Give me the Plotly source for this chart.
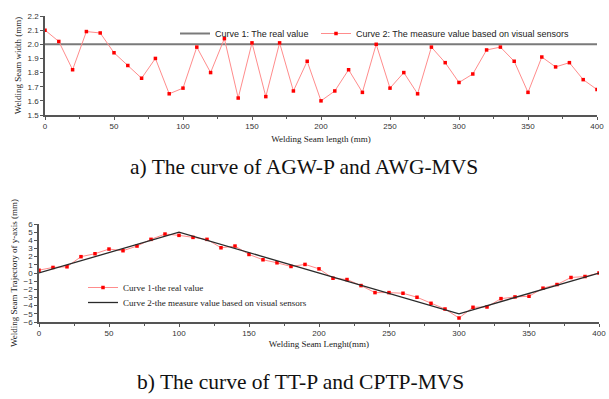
import plotly.graph_objects as go

W, H = 609, 399

# ---------------- data ----------------
seam_len = [0, 10, 20, 30, 40, 50, 60, 70, 80, 90, 100, 110, 120, 130, 140, 150, 160, 170, 180, 190,
            200, 210, 220, 230, 240, 250, 260, 270, 280, 290, 300, 310, 320, 330, 340, 350, 360, 370,
            380, 390, 400]
width_measured = [2.10, 2.02, 1.82, 2.09, 2.08, 1.94, 1.85, 1.76, 1.90, 1.65, 1.69, 1.98, 1.80, 2.04,
                  1.62, 2.01, 1.63, 2.01, 1.67, 1.88, 1.60, 1.67, 1.82, 1.66, 2.00, 1.69, 1.80, 1.65,
                  1.98, 1.87, 1.73, 1.79, 1.96, 1.98, 1.88, 1.66, 1.91, 1.84, 1.87, 1.75, 1.68]
width_real_x = [0, 400]
width_real_y = [2.0, 2.0]

traj_points = [0.35, 0.68, 0.76, 2.0, 2.36, 2.93, 2.73, 3.30, 4.12, 4.77, 4.61, 4.36, 4.12, 3.09,
               3.30, 2.27, 1.62, 1.25, 0.80, 1.05, 0.51, -0.64, -0.80, -1.54, -2.40, -2.40, -2.48,
               -2.97, -3.71, -4.41, -5.51, -4.20, -4.16, -3.14, -2.93, -2.85, -1.86, -1.41, -0.55,
               -0.43, 0.0]
traj_line_x = [0, 100, 300, 400]
traj_line_y = [0, 5, -5, 0]

top_yticks = [1.5, 1.6, 1.7, 1.8, 1.9, 2.0, 2.1, 2.2]
bot_yticks = list(range(-6, 7))
xticks = [0, 50, 100, 150, 200, 250, 300, 350, 400]

SERIF = "Liberation Serif, Times New Roman, serif"
SANS = "Liberation Sans, Arial, sans-serif"


def px_x(p):
    return p / W


def px_y(p):
    return 1 - p / H


fig = go.Figure()

# top chart
fig.add_trace(go.Scatter(x=width_real_x, y=width_real_y, mode="lines", name="Curve 1: The real value",
                         line=dict(color="#7a7a7a", width=2), xaxis="x", yaxis="y", legend="legend",
                         showlegend=True))
fig.add_trace(go.Scatter(x=seam_len, y=width_measured, mode="lines+markers",
                         name="Curve 2: The measure value based on visual sensors",
                         line=dict(color="#ff8c8c", width=1),
                         marker=dict(color="#ff0000", size=3.5, symbol="square"),
                         xaxis="x", yaxis="y", legend="legend3", showlegend=True))

# bottom chart
fig.add_trace(go.Scatter(x=seam_len, y=traj_points, mode="lines+markers", name="Curve 1-the real value",
                         line=dict(color="#ff8c8c", width=1),
                         marker=dict(color="#ff0000", size=3.5, symbol="square"),
                         xaxis="x2", yaxis="y2", legend="legend2", showlegend=True))
fig.add_trace(go.Scatter(x=traj_line_x, y=traj_line_y, mode="lines",
                         name="Curve 2-the measure value based on visual sensors",
                         line=dict(color="#2a2a2a", width=1.3), xaxis="x2", yaxis="y2", legend="legend4",
                         showlegend=True))

axis_common = dict(showgrid=False, zeroline=False, showline=True, linecolor="#555555", linewidth=1.5,
                   ticks="outside", ticklen=3, tickwidth=1, tickcolor="#555555", automargin=False,
                   tickfont=dict(family=SANS, size=8, color="#333333"))

leg_common = dict(orientation="v", xanchor="left", yanchor="top", bgcolor="rgba(0,0,0,0)",
                  itemwidth=30, tracegroupgap=0, visible=True)

fig.update_layout(
    width=W, height=H, margin=dict(l=0, r=0, t=0, b=0, autoexpand=False),
    paper_bgcolor="white", plot_bgcolor="white", showlegend=True,
    xaxis=dict(domain=[px_x(45), px_x(597)], range=[0, 400], anchor="y", tickvals=xticks,
               minor=dict(ticks="outside", ticklen=2, dtick=25, tickcolor="#555555"),
               title=dict(text="Welding Seam length (mm)", font=dict(family=SERIF, size=9, color="#222"),
                          standoff=5),
               **axis_common),
    yaxis=dict(domain=[px_y(115), px_y(16)], range=[1.5, 2.2], anchor="x", tickvals=top_yticks,
               ticktext=[f"{v:.1f}" for v in top_yticks],
               title=dict(text="Welding Seam width (mm)", font=dict(family=SERIF, size=9, color="#222"),
                          standoff=4),
               **axis_common),
    xaxis2=dict(domain=[px_x(39), px_x(599)], range=[0, 400], anchor="y2", tickvals=xticks,
                minor=dict(ticks="outside", ticklen=2, dtick=25, tickcolor="#555555"),
                title=dict(text="Welding Seam Lenght(mm)", font=dict(family=SERIF, size=9, color="#222"),
                           standoff=3),
                **axis_common),
    yaxis2=dict(domain=[px_y(322), px_y(224)], range=[-6, 6], anchor="x2", tickvals=bot_yticks,
                title=dict(text="Welding Seam Trajectory of y-axis (mm)",
                           font=dict(family=SERIF, size=9, color="#222"), standoff=4),
                **axis_common),
    legend=dict(x=px_x(175), y=px_y(19), font=dict(family=SANS, size=9, color="#222"), **leg_common),
    legend3=dict(x=px_x(316), y=px_y(19), font=dict(family=SANS, size=9, color="#222"), **leg_common),
    legend2=dict(x=px_x(83), y=px_y(273), font=dict(family=SERIF, size=9, color="#222"), **leg_common),
    legend4=dict(x=px_x(83), y=px_y(288), font=dict(family=SERIF, size=9, color="#222"), **leg_common),
    annotations=[
        dict(text="a) The curve of AGW-P and AWG-MVS", x=px_x(304), y=px_y(167), xref="paper", yref="paper",
             showarrow=False, font=dict(family=SERIF, size=21.5, color="#111"), xanchor="center",
             yanchor="middle"),
        dict(text="b) The curve of TT-P and CPTP-MVS", x=px_x(300), y=px_y(382), xref="paper", yref="paper",
             showarrow=False, font=dict(family=SERIF, size=21.5, color="#111"), xanchor="center",
             yanchor="middle"),
    ],
)

fig.write_html("out.html", config={"displayModeBar": False},
               post_script="document.body.style.margin='0';")
